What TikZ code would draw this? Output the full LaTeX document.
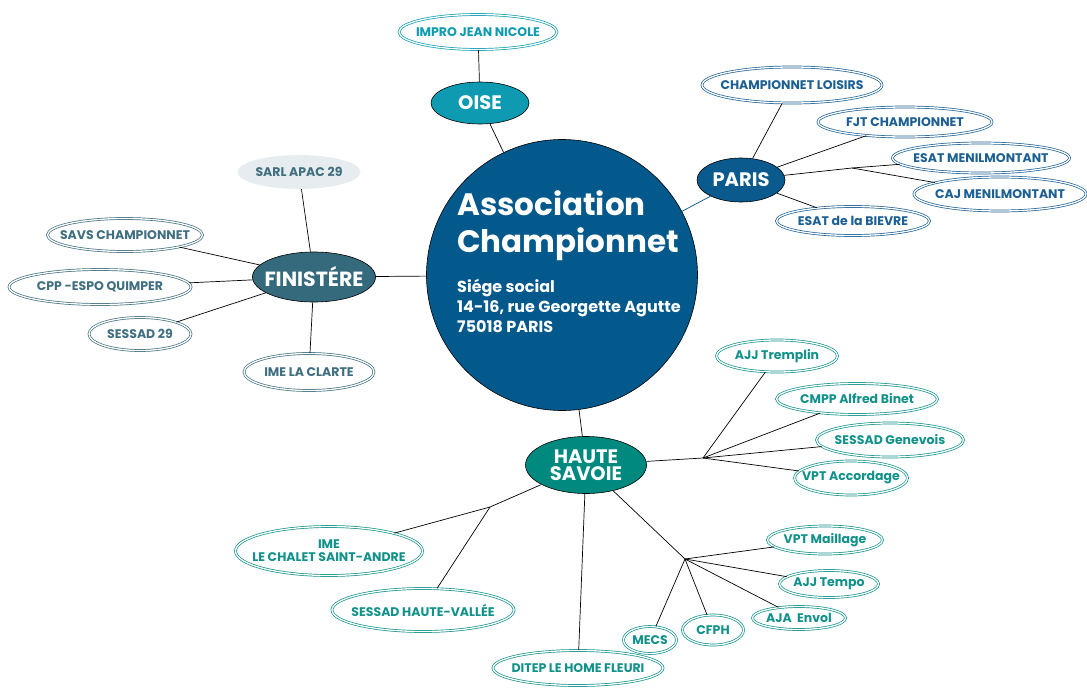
\documentclass[tikz,border=0pt]{standalone}
\usepackage{fontspec}
\setmainfont{Poppins}
\usetikzlibrary{shapes.geometric}

\definecolor{assoblue}{HTML}{03588C}
\definecolor{oiseteal}{HTML}{0E9BB2}
\definecolor{parisblue}{HTML}{0B5A8E}
\definecolor{parisline}{HTML}{1B5F93}
\definecolor{finislate}{HTML}{346A7C}
\definecolor{finitext}{HTML}{3F6E80}
\definecolor{sarlgray}{HTML}{E6ECEF}
\definecolor{savoiegreen}{HTML}{00897E}
\definecolor{savoietext}{HTML}{10918A}

\tikzset{
  region/.style={ellipse, draw=black, line width=0.6pt, fill=#1, text=white, inner xsep=-6pt, inner ysep=0pt,
    align=center, font=\bfseries\fontsize{19.5}{18}\selectfont},
  site/.style={ellipse, draw=#1, text=#1, double=white, double distance=1.3pt, line width=0.7pt,
    inner xsep=-12pt, inner ysep=0pt, align=center, font=\bfseries\fontsize{12.5}{13}\selectfont},
  link/.style={draw=black, line width=0.7pt},
}

\begin{document}
\begin{tikzpicture}[x=1pt, y=-1pt]
    \useasboundingbox (0,0) rectangle (1087,688);

    % centre
    \node[circle, draw=black, line width=0.6pt, fill=assoblue, minimum size=271pt, inner sep=0pt] (asso) at (562,275) {};
    \node[anchor=base west, align=left, text=white, inner sep=0pt,
        font=\bfseries\fontsize{31}{37}\selectfont] (title) at (457,252) {Association\\Championnet};
    \node[anchor=base west, align=left, text=white, inner sep=0pt,
        font=\bfseries\fontsize{16}{20}\selectfont] (siege) at (457,332) {Siége social\\14-16, rue Georgette Agutte\\75018 PARIS};

    % regions
    \node[region=oiseteal, minimum width=98pt, minimum height=42pt] (oise) at (480,103) {OISE};
    \node[region=parisblue, minimum width=88pt, minimum height=44pt] (paris) at (741,180) {PARIS};
    \node[region=finislate, minimum width=121pt, minimum height=50pt, font=\bfseries\fontsize{20.5}{18}\selectfont] (finistere) at (314,277) {FINISTÉRE};
    \node[region=savoiegreen, minimum width=121pt, minimum height=57pt, font=\bfseries\fontsize{19.5}{17.5}\selectfont] (savoie) at (586,465) {HAUTE\\SAVOIE};

    % oise
    \node[site=oiseteal, minimum width=158pt, minimum height=35pt] (impro) at (478,32) {IMPRO JEAN NICOLE};

    % paris
    \node[site=parisline, minimum width=180pt, minimum height=36pt] (loisirs) at (792,85) {CHAMPIONNET LOISIRS};
    \node[site=parisline, minimum width=174pt, minimum height=30pt] (fjt) at (905,122) {FJT CHAMPIONNET};
    \node[site=parisline, minimum width=177pt, minimum height=30pt] (esatmenil) at (981,158) {ESAT MENILMONTANT};
    \node[site=parisline, minimum width=172pt, minimum height=34pt] (cajmenil) at (1000,194) {CAJ MENILMONTANT};
    \node[site=parisline, minimum width=153pt, minimum height=29pt] (bievre) at (853,221) {ESAT de la BIEVRE};
    \coordinate (menil) at (852,168);

    % finistere
    \node[ellipse, fill=sarlgray, text=finitext, inner xsep=-12pt, inner ysep=0pt, minimum width=123pt, minimum height=34pt,
        font=\bfseries\fontsize{12.5}{13}\selectfont] (sarl) at (299,172) {SARL APAC 29};
    \node[site=finitext, minimum width=155pt, minimum height=33pt] (savs) at (125,235) {SAVS CHAMPIONNET};
    \node[site=finitext, minimum width=182pt, minimum height=35pt] (cpp) at (100,287) {CPP -ESPO QUIMPER};
    \node[site=finitext, minimum width=102pt, minimum height=33pt] (sessad29) at (140,334) {SESSAD 29};
    \node[site=finitext, minimum width=130pt, minimum height=37pt] (clarte) at (309,372) {IME LA CLARTE};

    % haute savoie
    \node[site=savoietext, minimum width=121pt, minimum height=32pt] (tremplin) at (777,356) {AJJ Tremplin};
    \node[site=savoietext, minimum width=161pt, minimum height=31pt] (binet) at (857,399) {CMPP Alfred Binet};
    \node[site=savoietext, minimum width=147pt, minimum height=34pt] (genevois) at (890,440) {SESSAD Genevois};
    \node[site=savoietext, minimum width=113pt, minimum height=34pt] (accordage) at (851,478) {VPT Accordage};
    \node[site=savoietext, minimum width=187pt, minimum height=49pt, inner xsep=-18pt] (chalet) at (329,551) {IME\\LE CHALET SAINT-ANDRE};
    \node[site=savoietext, minimum width=182pt, minimum height=43pt] (vallee) at (423,610) {SESSAD HAUTE-VALLÉE};
    \node[site=savoietext, minimum width=170pt, minimum height=35pt] (ditep) at (578,668) {DITEP LE HOME FLEURI};
    \node[site=savoietext, minimum width=53pt, minimum height=27pt] (mecs) at (650,640) {MECS};
    \node[site=savoietext, minimum width=61pt, minimum height=30pt] (cfph) at (713,630) {CFPH};
    \node[site=savoietext, minimum width=93pt, minimum height=23pt] (envol) at (799,618) {AJA~ Envol};
    \node[site=savoietext, minimum width=99pt, minimum height=27pt] (tempo) at (829,584) {AJJ Tempo};
    \node[site=savoietext, minimum width=115pt, minimum height=28pt] (maillage) at (825,540) {VPT Maillage};
    \coordinate (eastfork) at (703,458);
    \coordinate (westfork) at (490,507);
    \coordinate (southfork) at (685,559);

    % connectors
    \draw[link] (impro) -- (oise);
    \draw[link] (oise) -- (asso);
    \draw[draw=parisline, line width=0.8pt] (asso) -- (paris);
    \draw[link] (finistere) -- (asso);
    \draw[link] (asso) -- (savoie);

    \draw[link] (paris) -- (loisirs);
    \draw[link] (paris) -- (fjt);
    \draw[link] (paris) -- (menil) -- (esatmenil);
    \draw[link] (menil) -- (cajmenil);
    \draw[link] (paris) -- (bievre);

    \draw[link] (sarl) -- (finistere);
    \draw[link] (savs) -- (finistere);
    \draw[link] (cpp) -- (finistere);
    \draw[link] (sessad29) -- (finistere);
    \draw[link] (clarte) -- (finistere);

    \draw[link] (savoie) -- (eastfork);
    \foreach \n in {tremplin, binet, genevois, accordage}
        \draw[link] (eastfork) -- (\n);
    \draw[link] (savoie) -- (westfork) -- (chalet);
    \draw[link] (westfork) -- (vallee);
    \draw[link] (savoie) -- (ditep);
    \draw[link] (savoie) -- (southfork);
    \foreach \n in {maillage, tempo, envol, cfph, mecs}
        \draw[link] (southfork) -- (\n);
\end{tikzpicture}
\end{document}
